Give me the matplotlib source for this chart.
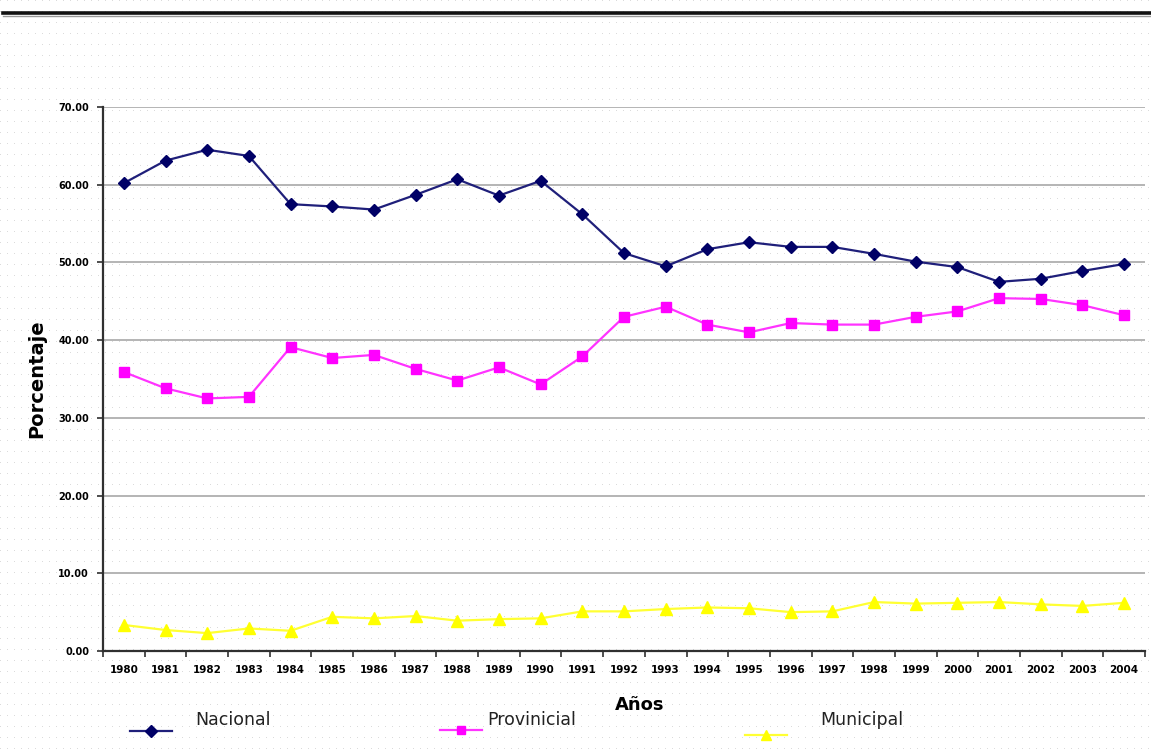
import numpy as np
import matplotlib
matplotlib.use("Agg")
import matplotlib.pyplot as plt
from matplotlib.lines import Line2D

# Reparto porcentual por nivel de gobierno, 1980-2004
years = [str(y) for y in range(1980, 2005)]
nacional = [60.2, 63.1, 64.5, 63.7, 57.5, 57.2, 56.8, 58.7, 60.7, 58.6, 60.5, 56.2,
            51.2, 49.5, 51.7, 52.6, 52.0, 52.0, 51.1, 50.1, 49.4, 47.5, 47.9, 48.9, 49.8]
provincial = [35.9, 33.8, 32.5, 32.7, 39.1, 37.7, 38.1, 36.3, 34.8, 36.5, 34.3, 37.9,
              43.0, 44.3, 42.0, 41.0, 42.2, 42.0, 42.0, 43.0, 43.7, 45.4, 45.3, 44.5, 43.2]
municipal = [3.35, 2.7, 2.3, 2.9, 2.6, 4.4, 4.2, 4.5, 3.9, 4.1, 4.2, 5.1,
             5.1, 5.4, 5.6, 5.5, 5.0, 5.1, 6.3, 6.1, 6.2, 6.3, 6.0, 5.8, 6.2]
yticks = [0, 10, 20, 30, 40, 50, 60, 70]
series_names = ["Nacional", "Provinicial", "Municipal"]

W, H = 1151, 755
fig = plt.figure(figsize=(W / 100, H / 100), dpi=100)
fig.patch.set_facecolor("white")

# faint dotted paper texture on a background layer
bg = fig.add_axes([0, 0, 1, 1], zorder=-5)
bg.set_axis_off()
tex = np.ones((H, W, 3))
tex[::11, ::7, :] = 0.86
bg.imshow(tex, aspect="auto", interpolation="nearest")

ax = fig.add_axes([103 / W, 1 - 651 / H, 1042 / W, 544 / H], zorder=2)
ax.set_facecolor("none")

x = np.arange(len(years))
styles = [
    dict(color="#1f1f7a", marker="D", markersize=6.5, markerfacecolor="#000066",
         markeredgecolor="#000066"),
    dict(color="#ff33ff", marker="s", markersize=7, markerfacecolor="#ff00ff",
         markeredgecolor="#ff00ff"),
    dict(color="#ffff33", marker="^", markersize=8, markerfacecolor="#ffff00",
         markeredgecolor="#ffff00"),
]
lines = []
for vals, st in zip([nacional, provincial, municipal], styles):
    ln, = ax.plot(x, vals, linewidth=1.6, zorder=3, **st)
    lines.append(ln)

ax.set_xlim(-0.5, len(years) - 0.5)
ax.set_ylim(0, 70)
ax.set_yticks(yticks)
ax.set_yticklabels([f"{v:.2f}" for v in yticks], fontsize=7, fontweight="bold")
ax.set_xticks(x)
ax.set_xticklabels(years, fontsize=7.5, fontweight="bold")
ax.set_xticks(np.arange(-0.5, len(years), 1), minor=True)
ax.tick_params(axis="x", which="major", length=0, pad=10)
ax.tick_params(axis="x", which="minor", length=4, width=1.2, color="#303030")
ax.tick_params(axis="y", length=4, width=1.2, color="#303030", pad=6)

ax.grid(axis="y", color="#b4b4b4", linewidth=1.4, zorder=1)
ax.set_axisbelow(True)
for s in ["top", "right"]:
    ax.spines[s].set_visible(False)
for s in ["left", "bottom"]:
    ax.spines[s].set_color("#303030")
    ax.spines[s].set_linewidth(1.6)

ax.set_ylabel("Porcentaje", fontsize=14, fontweight="bold")
ax.yaxis.set_label_coords(-0.0545, 0.5)
fig.text(640 / W, 1 - 705 / H, "Años", fontsize=13, fontweight="bold",
         ha="center", va="center")

# top rule
fig.add_artist(Line2D([3 / W, 1.0], [1 - 13 / H, 1 - 13 / H], color="#111111",
                      linewidth=2.6, transform=fig.transFigure))
fig.add_artist(Line2D([3 / W, 1.0], [1 - 16 / H, 1 - 16 / H], color="#999999",
                      linewidth=1.0, transform=fig.transFigure))

# legend row
key_x = [(130, 172), (440, 482), (745, 787)]
key_y = [731, 730, 735]
txt_x = [195, 487, 820]
for ln, name, (x0, x1), ky, tx in zip(lines, series_names, key_x, key_y, txt_x):
    fig.add_artist(Line2D([x0 / W, x1 / W], [1 - ky / H, 1 - ky / H],
                          color=ln.get_color(), linewidth=1.6,
                          transform=fig.transFigure))
    fig.add_artist(Line2D([(x0 + x1) / 2 / W], [1 - ky / H],
                          marker=ln.get_marker(), markersize=ln.get_markersize() * 0.9,
                          markerfacecolor=ln.get_markerfacecolor(),
                          markeredgecolor=ln.get_markeredgecolor(),
                          linestyle="none", transform=fig.transFigure))
    fig.text(tx / W, 1 - 720 / H, name, fontsize=12.5, color="#222222",
             ha="left", va="center")

fig.savefig("out.png", dpi=100)
